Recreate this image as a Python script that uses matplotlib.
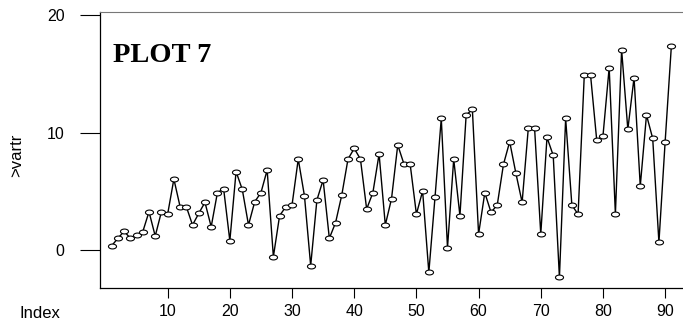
import numpy as np
import matplotlib.pyplot as plt
from matplotlib.path import Path

# values (index 1..91)
vartr = [0.37, 1.0, 1.6, 1.0, 1.28, 1.56, 3.26, 1.19, 3.26, 3.06,
         6.04, 3.69, 3.69, 2.13, 3.12, 4.06, 1.98, 4.88, 5.22, 0.79,
         6.67, 5.16, 2.13, 4.11, 4.88, 6.81, -0.57, 2.92, 3.69, 3.83,
         7.74, 4.6, -1.33, 4.26, 5.96, 1.0, 2.33, 4.68, 7.74, 8.65,
         7.74, 3.49, 4.88, 8.17, 2.13, 4.37, 8.94, 7.32, 7.29, 3.06,
         5.02, -1.9, 4.54, 11.2, 0.2, 7.74, 2.92, 11.49, 11.97, 1.36,
         4.88, 3.21, 3.83, 7.29, 9.22, 6.53, 4.06, 10.41, 10.41, 1.36,
         9.59, 8.06, -2.33, 11.2, 3.83, 3.04, 14.92, 14.92, 9.33, 9.7,
         15.52, 3.06, 17.05, 10.27, 14.67, 5.45, 11.49, 9.5, 0.65, 9.22,
         17.36]
index = np.arange(1, len(vartr) + 1)
xticks = [10, 20, 30, 40, 50, 60, 70, 80, 90]
yticks = [0, 10, 20]

plt.rcParams['font.family'] = ['Liberation Sans', 'DejaVu Sans']

# R plots here look stretched sideways, so the circles are wide ellipses
circ = Path.unit_circle()
ellipse = Path(circ.vertices * [1.65, 1.0], circ.codes)

fig = plt.figure(figsize=(6.83, 3.2), dpi=100)
ax = fig.add_axes([100 / 683, 1 - 288 / 320, 1.01 - 100 / 683, (288 - 12) / 320])

ax.plot(index, vartr, color='black', linewidth=1.0, marker=ellipse,
        markersize=5.8, markerfacecolor='white', markeredgecolor='black',
        markeredgewidth=0.8)

ax.set_xlim(-0.88, 93.97)
ax.set_ylim(-3.23, 20.26)
ax.set_xticks(xticks)
ax.set_yticks(yticks)
ax.tick_params(axis='x', length=7.2, width=0.8, pad=4.5, labelsize=11.5)
ax.tick_params(axis='y', length=14.4, width=0.8, pad=11, labelsize=11.5)

ax.spines['right'].set_visible(False)
ax.spines['top'].set_color('#777777')
ax.spines['top'].set_linewidth(0.8)
for s in ['left', 'bottom']:
    ax.spines[s].set_linewidth(0.9)

ax.text(113 / 683, 1 - 62 / 320, 'PLOT 7', transform=fig.transFigure,
        family=['Liberation Serif', 'DejaVu Serif'], fontweight='bold',
        fontsize=20.5, ha='left', va='baseline')

fig.text(17 / 683, 1 - 155 / 320, '>vartr', rotation=90, ha='center',
         va='center', fontsize=12)
fig.text(40 / 683, 1 - 313 / 320, 'Index', ha='center', va='center',
         fontsize=12)

fig.savefig('out.png', dpi=100)
